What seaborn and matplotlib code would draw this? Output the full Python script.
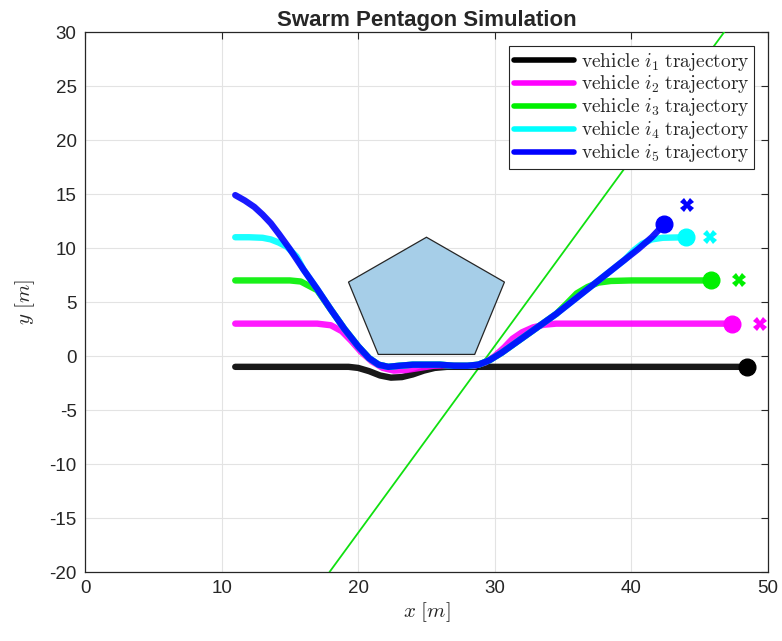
import matplotlib
matplotlib.use("Agg")
import matplotlib.pyplot as plt
from matplotlib.patches import Polygon
from matplotlib.lines import Line2D
import seaborn as sns

# ---- vehicle trajectories (x, y in metres) ----
v1_x = [11, 19.3, 20.0, 20.8, 21.6, 22.4, 23.2, 24.0, 24.8, 25.6, 26.5, 48.5]
v1_y = [-1, -1.0, -1.1, -1.4, -1.8, -2.0, -1.95, -1.7, -1.35, -1.1, -1.0, -1.0]

v2_x = [11, 17, 18.0, 18.8, 19.5, 20.2, 21.0, 21.8, 22.6, 23.5, 24.5, 25.5, 26.5,
        27.5, 28.5, 29.3, 30.0, 30.7, 31.3, 32.0, 32.8, 33.6, 34.5, 47.4]
v2_y = [3, 3, 2.85, 2.3, 1.4, 0.4, -0.5, -1.1, -1.35, -1.3, -1.1, -0.9, -0.85,
        -0.9, -0.9, -0.6, 0.0, 0.8, 1.6, 2.2, 2.65, 2.9, 3.0, 3.0]

v3_x = [11, 15, 15.8, 16.4, 17.0, 18, 19, 20, 20.8, 21.5, 22.2, 23, 24, 25, 26, 27,
        28, 28.8, 29.6, 30.5, 31.5, 32.5, 33.5, 34.5, 35.3, 36.0, 36.8, 37.6, 38.5,
        40, 45.8]
v3_y = [7, 7, 6.9, 6.5, 6.1, 4.3, 2.5, 0.9, -0.2, -0.8, -1.0, -0.9, -0.8, -0.8,
        -0.8, -0.9, -0.9, -0.8, -0.4, 0.3, 1.2, 2.1, 3.0, 3.9, 4.9, 5.8, 6.4, 6.8,
        6.95, 7.0, 7.0]

v4_x = [11, 12, 13, 13.6, 14.2, 14.8, 15.5, 16, 17, 18, 19, 20, 20.8, 21.5, 22.2,
        23, 24, 25, 26, 27, 28, 28.8, 29.6, 30.5, 31.5, 32.5, 33.5, 34.5, 35.5, 36.5,
        37.5, 38.5, 39.5, 40.2, 40.8, 41.5, 42.3, 44.0]
v4_y = [11, 11, 10.95, 10.8, 10.5, 10.1, 9.2, 8.0, 6.2, 4.3, 2.5, 0.9, -0.2, -0.8,
        -1.0, -0.9, -0.8, -0.8, -0.8, -0.9, -0.9, -0.8, -0.4, 0.3, 1.2, 2.1, 3.0,
        3.9, 4.9, 5.9, 6.9, 7.9, 8.9, 9.8, 10.4, 10.8, 10.95, 11.0]

v5_x = [11, 11.7, 12.4, 13.0, 13.6, 14.2, 15, 16, 17, 18, 19, 20, 20.8, 21.5, 22.2,
        23, 24, 25, 26, 27, 28, 28.8, 29.6, 30.5, 31.5, 32.5, 33.5, 34.5, 35.5,
        36.5, 37.5, 38.5, 39.5, 40.5, 41.5, 42.4]
v5_y = [14.9, 14.4, 13.8, 13.1, 12.3, 11.3, 9.9, 8.0, 6.2, 4.3, 2.5, 0.9, -0.2,
        -0.8, -1.0, -0.9, -0.8, -0.8, -0.8, -0.9, -0.9, -0.8, -0.4, 0.3, 1.2, 2.1,
        3.0, 3.9, 4.9, 5.9, 6.9, 7.9, 8.9, 9.9, 11.0, 12.2]

# goal positions (vehicle 2..5)
goal_x = [49.4, 47.9, 45.75, 44.1]
goal_y = [3.0, 7.0, 11.0, 14.0]

# pentagon obstacle vertices
pent_x = [25.0, 30.71, 28.53, 21.47, 19.29]
pent_y = [11.0, 6.85, 0.15, 0.15, 6.85]

# straight boundary line
bound_x = [17.9, 46.8]
bound_y = [-20.0, 30.0]

labels = [r"$\mathrm{vehicle}\ i_{%d}\ \mathrm{trajectory}$" % k for k in range(1, 6)]
colors = ["#000000", "#ff00ff", "#00f000", "#00ffff", "#0000ff"]

sns.set_theme(style="whitegrid")
plt.rcParams["font.family"] = ["Liberation Sans", "DejaVu Sans"]
plt.rcParams["mathtext.fontset"] = "cm"
plt.rcParams["axes.unicode_minus"] = False

fig = plt.figure(figsize=(7.82, 6.41), dpi=100)
ax = fig.add_axes([0.1087, 0.1076, 0.8733, 0.8424])
ax.set_facecolor("white")

ax.add_patch(Polygon(list(zip(pent_x, pent_y)), closed=True,
                     facecolor="#a6cee8", edgecolor="#262626", lw=0.9, zorder=2))

sns.lineplot(x=bound_x, y=bound_y, sort=False, color="#10e010", lw=1.3, ax=ax,
             zorder=3)

paths = [(v1_x, v1_y), (v2_x, v2_y), (v3_x, v3_y), (v4_x, v4_y), (v5_x, v5_y)]
for i, ((px, py), c) in enumerate(zip(paths, colors)):
    sns.lineplot(x=px, y=py, sort=False, estimator=None, color=c, lw=4.6,
                 alpha=0.9, ax=ax, zorder=4 + i)
    ax.plot(px[-1], py[-1], "o", color=c, ms=12, zorder=10)

for gx, gy, c in zip(goal_x, goal_y, colors[1:]):
    ax.plot(gx, gy, "X", color=c, ms=9.5, mew=0, zorder=10)

ax.set_xlim(0, 50)
ax.set_ylim(-20, 30)
ax.set_xticks(range(0, 51, 10))
ax.set_yticks(range(-20, 31, 5))
ax.grid(True, color="#e3e3e3", lw=0.8)
for s in ax.spines.values():
    s.set_color("#262626")
    s.set_linewidth(0.9)
ax.tick_params(direction="in", top=True, right=True, length=5, width=0.8,
               labelsize=13.5, colors="#262626", pad=6)

ax.set_title("Swarm Pentagon Simulation", fontweight="bold", fontsize=16, pad=4)
ax.set_xlabel(r"$x\ [m]$", fontsize=15, labelpad=2)
ax.set_ylabel(r"$y\ [m]$", fontsize=15, labelpad=9)

handles = [Line2D([], [], color=c, lw=4) for c in colors]
leg = ax.legend(handles, labels, loc="upper right", fontsize=14,
                fancybox=False, framealpha=1, edgecolor="#262626",
                handlelength=3.1, handletextpad=0.35, labelspacing=0.05,
                borderpad=0.25, borderaxespad=0.7)
leg.get_frame().set_linewidth(0.8)
leg.set_zorder(20)

fig.savefig("out.png", dpi=100)
